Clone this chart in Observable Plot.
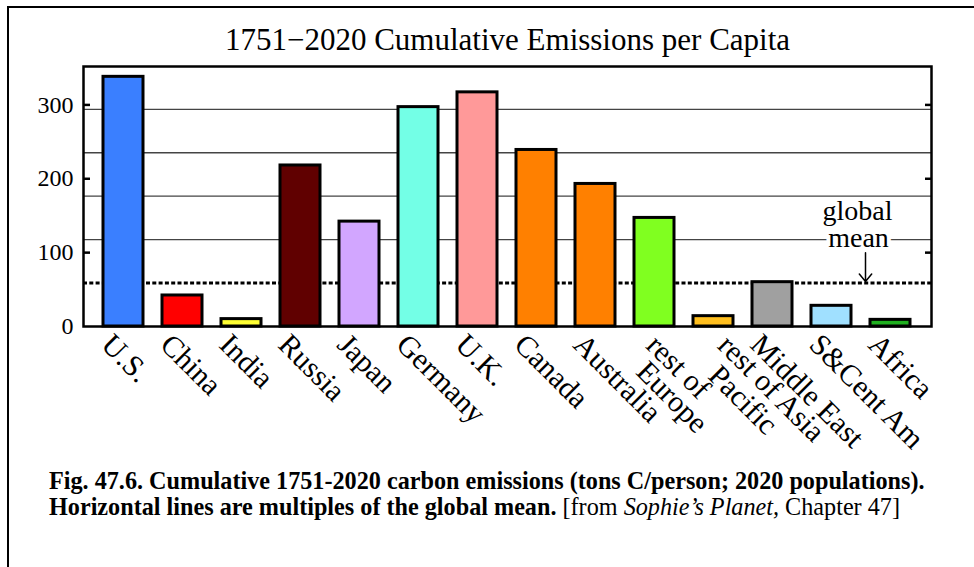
<!DOCTYPE html>
<html><head><meta charset="utf-8">
<script src="https://cdn.jsdelivr.net/npm/d3@7"></script>
<script src="https://cdn.jsdelivr.net/npm/@observablehq/plot@0.6"></script>
<style>
body{margin:0;background:#fff;}
#wrap{position:relative;width:974px;height:567px;overflow:hidden;font-family:"Liberation Serif","Times New Roman",serif;}
#border{position:absolute;left:7px;top:6px;width:1000px;height:600px;border-left:2.5px solid #000;border-top:2.5px solid #000;}
#chart{position:absolute;left:0;top:0;}
#caption{position:absolute;left:49px;top:468px;font-size:24.2px;line-height:26px;color:#000;white-space:nowrap;}
</style></head>
<body><div id="wrap"><div id="border"></div><div id="chart"></div>
<div id="caption"><b>Fig. 47.6. Cumulative 1751-2020 carbon emissions (tons C/person; 2020 populations).</b><br><b>Horizontal lines are multiples of the global mean.</b> [from <i>Sophie’s Planet,</i> Chapter 47]</div></div>
<script>
const regions = ["U.S.","China","India","Russia","Japan","Germany","U.K.","Canada","Australia","rest of Europe","rest of Asia Pacific","Middle East","S&Cent Am","Africa"];
const emissions = [338,42,10,218,142,297,317,239,193,147,14,60,28,9];
const barColors = ["#3a7fff","#ff0000","#ffff33","#600000","#d2a6ff","#73ffe6","#ff9999","#ff8000","#ff8000","#80ff20","#ffbf1f","#a0a0a0","#a0e0ff","#1fb01f"];
const globalMean = 58.8;
const gridMultiples = [2,3,4,5];
const yTickValues = [0,100,200,300];
const yInnerTicks = [100,200,300];
const singleLineLabels = ["U.S.","China","India","Russia","Japan","Germany","U.K.","Canada","Australia","Middle East","S&Cent Am","Africa"];
const titleText = "1751\u22122020 Cumulative Emissions per Capita";
const meanArrow = [{region:"S&Cent Am", from:100, to:61}];

const data = regions.map((r,i)=>({region:r, value:emissions[i], color:barColors[i]}));
const lbl = {frameAnchor: "bottom", rotate: 45, textAnchor: "start", lineAnchor: "middle", fontSize: 30};

const plot = Plot.plot({
  width: 974, height: 450,
  marginLeft: 83, marginRight: 43, marginTop: 66, marginBottom: 124,
  style: {fontFamily: '"Liberation Serif","Times New Roman",serif', fontSize: "24px", background: "transparent", overflow: "visible", color: "#000"},
  x: {domain: regions, paddingInner: 0.32, paddingOuter: 0.34, axis: null},
  y: {domain: [0, 352], label: null},
  marks: [
    Plot.ruleY(gridMultiples, {y: d => d*globalMean, stroke: "#444", strokeWidth: 1.3}),
    Plot.ruleY([globalMean], {stroke: "#000", strokeWidth: 3, strokeDasharray: "4,2.3"}),
    Plot.barY(data, {x: "region", y: "value", fill: "color", stroke: "#000", strokeWidth: 3}),
    Plot.frame({stroke: "#000", strokeWidth: 2.5}),
    Plot.axisY(yTickValues, {anchor: "left", tickSize: 0, tickPadding: 10, fontSize: 24, label: null}),
    Plot.axisY(yInnerTicks, {anchor: "left", tickSize: 7, dx: 7, strokeWidth: 2.5, tickFormat: () => "", label: null}),
    Plot.axisY(yInnerTicks, {anchor: "right", tickSize: 7, dx: -7, strokeWidth: 2.5, tickFormat: () => "", label: null}),
    Plot.text(singleLineLabels, {...lbl, x: d => d, text: d => d, dx: -17, dy: 13}),
    Plot.text(["rest of Europe"], {...lbl, x: d => d, text: () => "rest of", dx: -3, dy: 13.6}),
    Plot.text(["rest of Europe"], {...lbl, x: d => d, text: () => "Europe", dx: -13, dy: 40}),
    Plot.text(["rest of Asia Pacific"], {...lbl, x: d => d, text: () => "rest of Asia", dx: 9.5, dy: 13.6}),
    Plot.text(["rest of Asia Pacific"], {...lbl, x: d => d, text: () => "Pacific", dx: 0, dy: 44}),
    Plot.text(meanArrow, {x: "region", y: () => 2*globalMean, text: () => "global", dx: 26, dy: -19.5, lineAnchor: "bottom", fontSize: 28, fill: "#000"}),
    Plot.text(meanArrow, {x: "region", y: () => 2*globalMean, text: () => "mean", dx: 27, dy: 7.4, lineAnchor: "bottom", fontSize: 28, fill: "#000", stroke: "#fff", strokeWidth: 8, paintOrder: "stroke"}),
    Plot.arrow(meanArrow, {x1: "region", x2: "region", y1: "from", y2: "to", dx: 34, stroke: "#000", strokeWidth: 1.5, headLength: 10, headAngle: 80}),
    Plot.text([titleText], {frameAnchor: "top", text: d => d, dy: -16.7, lineAnchor: "bottom", fontSize: 31})
  ]
});
document.getElementById("chart").appendChild(plot);
</script>
</body></html>
